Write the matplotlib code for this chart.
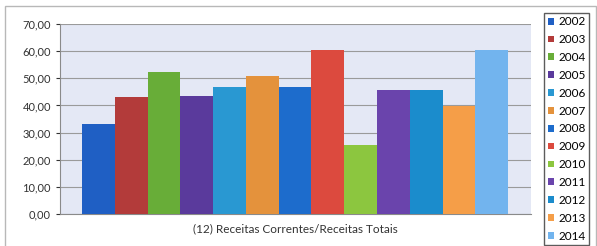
import matplotlib.pyplot as plt
import matplotlib.ticker as mticker
from matplotlib.patches import Rectangle, Patch

years = ['2002', '2003', '2004', '2005', '2006', '2007', '2008',
         '2009', '2010', '2011', '2012', '2013', '2014']
values = [33.2, 43.1, 52.2, 43.5, 46.8, 50.8, 46.8,
          60.5, 25.4, 45.8, 45.8, 39.9, 60.5]
colors = ['#1f5fc4', '#b33b3a', '#68ad38', '#5a3a9c', '#2998d2', '#e4923c', '#1d6ccc',
          '#dc4a3e', '#8cc63f', '#6a44ac', '#1b8ccc', '#f59e48', '#72b4ee']
xlabel = '(12) Receitas Correntes/Receitas Totais'

plt.rcParams['font.family'] = ['Lato', 'DejaVu Sans']

fig = plt.figure(figsize=(5.97, 2.46), dpi=100)
fig.patch.set_facecolor('white')
# outer chart frame
fig.add_artist(Rectangle((0.008, -0.05), 0.99, 1.025, transform=fig.transFigure,
                         fill=False, edgecolor='#b8b8b8', linewidth=1.0))

ax = fig.add_axes([0.1005, 0.130, 0.789, 0.772])
ax.set_facecolor('#e4e8f5')

x = range(len(years))
ax.bar(x, values, width=1.0, color=colors, edgecolor='none', zorder=3)

ax.set_ylim(0, 70)
ax.set_xlim(-1.17, 13.2)
ax.yaxis.set_major_locator(mticker.MultipleLocator(10))
ax.yaxis.set_major_formatter(mticker.FuncFormatter(lambda v, p: f'{v:.2f}'.replace('.', ',')))
ax.grid(axis='y', color='#9a9a9a', linewidth=0.8, zorder=1)
ax.set_xticks([])
ax.tick_params(axis='y', labelsize=8, colors='#333333', length=3, width=0.8)
for s in ['top', 'right']:
    ax.spines[s].set_visible(False)
ax.spines['left'].set_color('#8a8a8a')
ax.spines['bottom'].set_color('#8a8a8a')
ax.set_xlabel(xlabel, fontsize=8.5, color='#333333', labelpad=7)

handles = [Patch(facecolor=c, edgecolor='none') for c in colors]
fig.legend(handles, years, loc='upper left', bbox_to_anchor=(0.912, 0.948),
           fontsize=8.5, frameon=True, fancybox=False, edgecolor='#333333',
           handlelength=0.5, handleheight=0.5, handletextpad=0.35,
           labelspacing=0.58, borderpad=0.3, borderaxespad=0)

fig.savefig('out.png', dpi=100)
